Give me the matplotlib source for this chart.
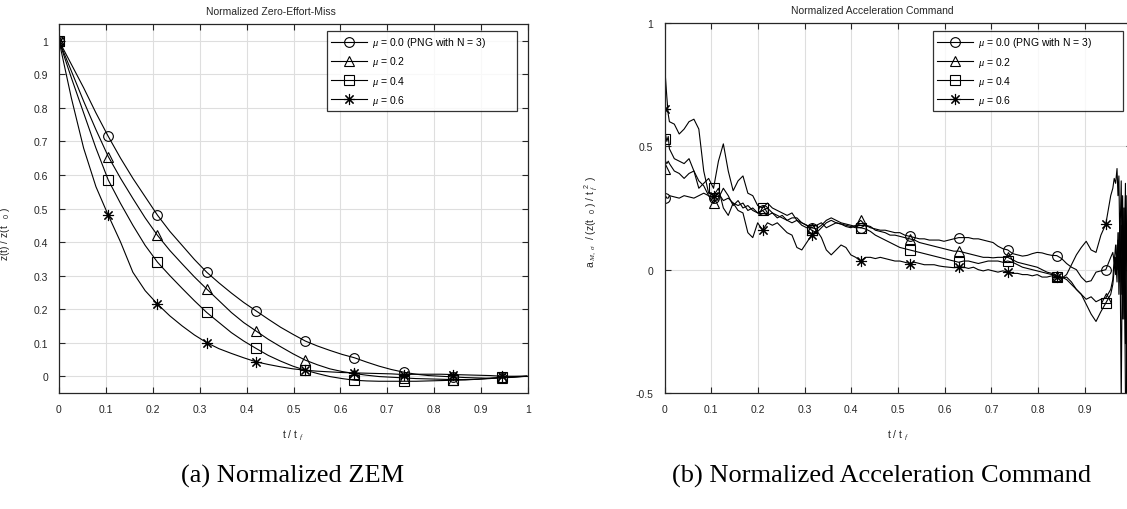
import numpy as np
import matplotlib
matplotlib.use("Agg")
import matplotlib.pyplot as plt

plt.rcParams['font.family'] = ['Liberation Sans', 'DejaVu Sans']
plt.rcParams['mathtext.fontset'] = 'custom'
plt.rcParams['mathtext.rm'] = 'Liberation Sans'
plt.rcParams['mathtext.it'] = 'Liberation Serif:italic'

labels = [r'$\mu$ = 0.0 (PNG with N = 3)', r'$\mu$ = 0.2', r'$\mu$ = 0.4', r'$\mu$ = 0.6']
markers = ['o', '^', 's', (8, 2, 0)]

# ---- (a) normalized ZEM, sampled every 0.02625 of t/tf
t_zem = np.arange(39) * 0.02625
zem_mu00 = [1, 0.93, 0.86, 0.785, 0.715, 0.65, 0.59, 0.535, 0.48, 0.432, 0.39, 0.348, 0.31,
            0.278, 0.248, 0.22, 0.195, 0.17, 0.146, 0.125, 0.105, 0.09, 0.077, 0.065, 0.055,
            0.042, 0.03, 0.02, 0.012, 0.006, 0.002, 0.0, -0.002, -0.004, -0.005, -0.006,
            -0.005, -0.003, 0.0]
zem_mu02 = [1, 0.91, 0.82, 0.735, 0.655, 0.59, 0.53, 0.472, 0.42, 0.375, 0.335, 0.296, 0.26,
            0.225, 0.19, 0.16, 0.135, 0.11, 0.088, 0.067, 0.048, 0.034, 0.022, 0.014, 0.008,
            0.003, -0.001, -0.003, -0.005, -0.007, -0.008, -0.009, -0.01, -0.01, -0.009,
            -0.007, -0.004, -0.002, 0.0]
zem_mu04 = [1, 0.89, 0.785, 0.68, 0.585, 0.515, 0.45, 0.39, 0.34, 0.3, 0.262, 0.225, 0.19,
            0.16, 0.13, 0.105, 0.083, 0.062, 0.045, 0.03, 0.018, 0.008, -0.001, -0.007,
            -0.012, -0.014, -0.015, -0.015, -0.015, -0.015, -0.014, -0.013, -0.012, -0.011,
            -0.009, -0.006, -0.003, -0.001, 0.0]
zem_mu06 = [1, 0.83, 0.68, 0.565, 0.48, 0.40, 0.31, 0.255, 0.215, 0.18, 0.15, 0.123, 0.10,
            0.082, 0.068, 0.055, 0.043, 0.035, 0.028, 0.022, 0.018, 0.015, 0.013, 0.011, 0.01,
            0.009, 0.008, 0.007, 0.005, 0.006, 0.006, 0.006, 0.005, 0.004, 0.003, 0.002, 0.0,
            0.0, 0.0]

# ---- (b) normalized acceleration command
t_head = [0, 0.002, 0.005, 0.008]
t_body = list(np.arange(1, 92) * 0.0105)
t_tail = [0.96, 0.963, 0.966, 0.969, 0.971, 0.973, 0.975, 0.978, 0.981, 0.984, 0.987, 0.99,
          0.993, 0.996, 1.0]
t_acc = np.array(t_head + t_body + t_tail)

acc_mu00 = [0.29, 0.30, 0.29, 0.29,
            0.30, 0.295, 0.29, 0.30, 0.295, 0.29, 0.30, 0.31, 0.30, 0.29,
            0.31, 0.28, 0.29, 0.27, 0.26, 0.27, 0.24, 0.25, 0.23, 0.24,
            0.22, 0.23, 0.21, 0.22, 0.20, 0.21, 0.21, 0.19, 0.18, 0.17,
            0.165, 0.18, 0.20, 0.21, 0.20, 0.19, 0.185, 0.18, 0.175, 0.17,
            0.18, 0.17, 0.165, 0.16, 0.16, 0.155, 0.15, 0.15, 0.14, 0.135,
            0.13, 0.125, 0.125, 0.12, 0.12, 0.12, 0.115, 0.12, 0.125, 0.13,
            0.13, 0.13, 0.125, 0.125, 0.12, 0.115, 0.11, 0.095, 0.085, 0.08,
            0.065, 0.06, 0.055, 0.058, 0.065, 0.07, 0.068, 0.062, 0.058, 0.057,
            0.045, 0.025, 0.01, 0.0, -0.03, -0.05, -0.045, -0.01, -0.005, 0.0,
            0.05,
            0.07, 0.03, 0.10, 0.0, 0.15, -0.1, 0.2, -0.55, 0.25, -0.2, 0.3, -0.6, 0.1, -0.3, 0.0]
acc_mu02 = [0.41, 0.44, 0.43, 0.44,
            0.43, 0.40, 0.39, 0.37, 0.39, 0.40, 0.36, 0.34, 0.30, 0.27,
            0.29, 0.33, 0.30, 0.26, 0.28, 0.25, 0.26, 0.24, 0.23, 0.24,
            0.25, 0.23, 0.22, 0.21, 0.20, 0.19, 0.20, 0.18, 0.17, 0.17,
            0.18, 0.19, 0.17, 0.18, 0.19, 0.185, 0.175, 0.17, 0.18, 0.20,
            0.18, 0.175, 0.16, 0.155, 0.15, 0.14, 0.14, 0.135, 0.13, 0.125,
            0.12, 0.11, 0.105, 0.10, 0.095, 0.09, 0.085, 0.08, 0.075, 0.075,
            0.07, 0.065, 0.06, 0.055, 0.05, 0.05, 0.048, 0.05, 0.05, 0.05,
            0.04, 0.03, 0.025, 0.02, 0.015, 0.01, 0.0, -0.01, -0.015, -0.025,
            -0.03, -0.04, -0.06, -0.08, -0.10, -0.12, -0.11, -0.13, -0.12, -0.115,
            -0.08,
            -0.04, 0.05, -0.02, 0.10, 0.0, 0.15, -0.05, 0.18, -0.1, 0.25, -0.3, 0.3, -0.4, 0.1, 0.0]
acc_mu04 = [0.53, 0.55, 0.52, 0.54,
            0.49, 0.45, 0.44, 0.43, 0.45, 0.40, 0.33, 0.35, 0.37, 0.33,
            0.44, 0.51, 0.40, 0.32, 0.36, 0.38, 0.31, 0.30, 0.26, 0.25,
            0.27, 0.25, 0.24, 0.23, 0.22, 0.23, 0.20, 0.19, 0.18, 0.16,
            0.15, 0.17, 0.19, 0.20, 0.19, 0.185, 0.18, 0.175, 0.17, 0.17,
            0.165, 0.155, 0.14, 0.13, 0.12, 0.11, 0.10, 0.09, 0.085, 0.08,
            0.075, 0.07, 0.065, 0.06, 0.055, 0.05, 0.045, 0.04, 0.035, 0.03,
            0.035, 0.035, 0.03, 0.025, 0.03, 0.035, 0.035, 0.035, 0.03, 0.035,
            0.03, 0.02, 0.01, 0.005, 0.0, -0.005, -0.01, -0.015, -0.02, -0.03,
            -0.035, -0.03, -0.05, -0.08, -0.10, -0.14, -0.18, -0.21, -0.17, -0.135,
            -0.10,
            -0.06, 0.0, 0.05, -0.05, 0.12, 0.02, 0.2, -0.1, 0.3, -0.2, 0.35, -0.55, 0.2, -0.5, 0.0]
acc_mu06 = [0.65, 0.78, 0.70, 0.63,
            0.60, 0.59, 0.55, 0.57, 0.60, 0.61, 0.57, 0.40, 0.31, 0.30,
            0.33, 0.25, 0.22, 0.27, 0.24, 0.23, 0.15, 0.13, 0.19, 0.16,
            0.19, 0.18, 0.19, 0.17, 0.15, 0.14, 0.09, 0.08, 0.11, 0.14,
            0.16, 0.13, 0.08, 0.06, 0.08, 0.10, 0.09, 0.06, 0.05, 0.035,
            0.05, 0.05, 0.045, 0.05, 0.045, 0.04, 0.035, 0.035, 0.03, 0.025,
            0.03, 0.025, 0.02, 0.02, 0.02, 0.015, 0.012, 0.01, 0.008, 0.012,
            0.01, 0.005, 0.01, 0.0, -0.005, 0.0, -0.005, -0.01, -0.005, -0.01,
            -0.015, -0.015, -0.02, -0.02, -0.025, -0.02, -0.03, -0.03, -0.025, -0.03,
            -0.035, -0.02, 0.02, 0.06, 0.09, 0.115, 0.08, 0.07, 0.14, 0.185,
            0.30,
            0.33, 0.37, 0.35, 0.41, 0.30, 0.38, 0.10, 0.36, -0.2, 0.25, -0.5, -0.55, 0.2, -0.6, 0.0]

zem = [zem_mu00, zem_mu02, zem_mu04, zem_mu06]
acc = [acc_mu00, acc_mu02, acc_mu04, acc_mu06]
ticks01 = ['0', '0.1', '0.2', '0.3', '0.4', '0.5', '0.6', '0.7', '0.8', '0.9', '1']

fig = plt.figure(figsize=(11.27, 5.10), dpi=100)
ax1 = fig.add_axes([59 / 1127, 116 / 510, 469 / 1127, 369 / 510])
ax2 = fig.add_axes([664.5 / 1127, 116 / 510, 467 / 1127, 370 / 510])

dark = '#262626'
mk_zem = list(range(0, 37, 4))
mk_acc = [0] + [3 + 10 * k for k in range(1, 10)]

for i in range(4):
    ms = 8 if i == 3 else 7
    ax1.plot(t_zem, zem[i], color='k', lw=0.8, marker=markers[i], ms=ms, mfc='none',
             mec='k', mew=0.8, markevery=mk_zem, label=labels[i])
    ax2.plot(t_acc, acc[i], color='k', lw=0.8, marker=markers[i], ms=ms, mfc='none',
             mec='k', mew=0.8, markevery=mk_acc, label=labels[i])

ax1.set_xlim(0, 1)
ax1.set_ylim(-0.05, 1.05)
ax1.set_xticks(np.arange(0, 1.01, 0.1))
ax1.set_yticks(np.arange(0, 1.01, 0.1))
ax1.set_xticklabels(ticks01)
ax1.set_yticklabels(ticks01)

ax2.set_xlim(0, 1)
ax2.set_ylim(-0.5, 1)
ax2.set_xticks(np.arange(0, 1.01, 0.1))
ax2.set_yticks([-0.5, 0, 0.5, 1])
ax2.set_xticklabels(ticks01[:-1] + [''])
ax2.set_yticklabels(['-0.5', '0', '0.5', '1'])

for ax in (ax1, ax2):
    ax.grid(True, color='#dedede', lw=0.8)
    ax.set_axisbelow(True)
    ax.tick_params(direction='in', top=True, right=True, length=4, width=0.8,
                   colors=dark, labelsize=7.5, pad=8)
    for s in ax.spines.values():
        s.set_color(dark)
        s.set_linewidth(0.9)
    ax.set_xlabel(r't / t$_{\ \ f}$', fontsize=7.5, color=dark, labelpad=10)

leg_labels = [labels[0] + '          '] + labels[1:]
for ax, anchor in ((ax1, (0.977, 0.981)), (ax2, (0.982, 0.978))):
    h, _ = ax.get_legend_handles_labels()
    leg = ax.legend(h, leg_labels, loc='upper right', bbox_to_anchor=anchor,
                    fontsize=7.5, frameon=True, fancybox=False, edgecolor='k',
                    handlelength=3.4, labelspacing=0.5, borderaxespad=0,
                    borderpad=0.4, handletextpad=0.5)
    leg.get_frame().set_linewidth(0.9)

ax1.set_ylabel(r'z(t) / z(t$_{\ \ \ \ 0}$ )', fontsize=7.5, color=dark)
ax1.yaxis.set_label_coords(-0.1, 0.434)
ax2.set_ylabel(r'a$_{\ M,\ \sigma}$  / (z(t$_{\ \ \ 0}$ ) / t$_{\ f}^{\ \ 2}$ )',
               fontsize=7.5, color=dark)
ax2.yaxis.set_label_coords(-0.138, 0.465)

ax1.set_title('Normalized Zero-Effort-Miss', fontsize=7.5, color=dark, x=0.452, pad=7)
ax2.set_title('Normalized Acceleration Command', fontsize=7.5, color=dark, x=0.446, pad=7)

fig.text(293 / 1127, 1 - 476 / 510, '(a) Normalized ZEM', ha='center', va='center',
         family='Liberation Serif', fontsize=19)
fig.text(882 / 1127, 1 - 476 / 510, '(b) Normalized Acceleration Command', ha='center',
         va='center', family='Liberation Serif', fontsize=19)

fig.savefig('out.png', dpi=100)
